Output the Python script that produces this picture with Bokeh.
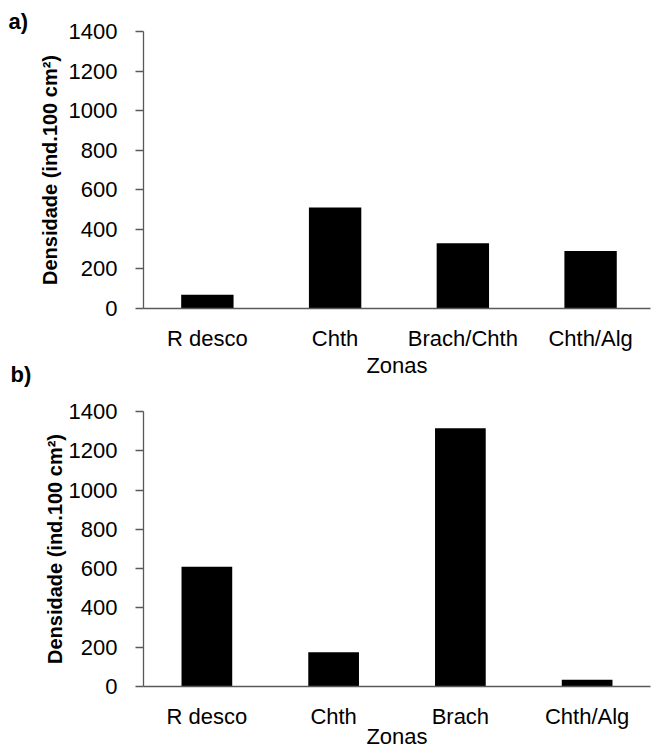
from bokeh.plotting import figure
from bokeh.models import Range1d, FixedTicker, Title
from bokeh.layouts import column
from bokeh.embed import file_html
from bokeh.resources import INLINE

# ---- data ----
zonas_a = ["R desco", "Chth", "Brach/Chth", "Chth/Alg"]
dens_a = [70, 510, 330, 290]
zonas_b = ["R desco", "Chth", "Brach", "Chth/Alg"]
dens_b = [610, 175, 1315, 35]
y_ticks = [0, 200, 400, 600, 800, 1000, 1200, 1400]
y_title = "Densidade (ind.100 cm²)"
x_title = "Zonas"
panel_tags = ["a)", "b)"]

FONT = "Liberation Sans"
AXIS_COL = "#595959"


def make_panel(cats, vals, width, height, b_left, b_right, b_top, b_bottom,
               x_end, bar_w, ylab_standoff, tick_standoff, xlab_standoff):
    xs = list(range(len(cats)))
    p = figure(width=width, height=height,
               x_range=Range1d(-0.5, x_end), y_range=Range1d(0, 1400),
               output_backend="svg", toolbar_location=None,
               min_border_left=b_left, min_border_right=b_right,
               min_border_top=b_top, min_border_bottom=b_bottom)
    p.vbar(x=xs, top=vals, width=bar_w, fill_color="black", line_color=None)
    p.outline_line_color = None
    p.background_fill_color = "white"
    p.border_fill_color = "white"
    p.xgrid.visible = False
    p.ygrid.visible = False

    # x axis
    xa = p.xaxis[0]
    xa.ticker = FixedTicker(ticks=xs)
    xa.major_label_overrides = {i: c for i, c in zip(xs, cats)}
    xa.major_tick_out = 0
    xa.major_tick_in = 0
    xa.minor_tick_out = 0
    xa.minor_tick_in = 0
    xa.axis_line_color = AXIS_COL
    xa.axis_line_width = 1.3
    xa.major_label_text_font = FONT
    xa.major_label_text_font_size = "22px"
    xa.major_label_text_color = "black"
    xa.major_label_standoff = 17
    xa.axis_label = x_title
    xa.axis_label_text_font = FONT
    xa.axis_label_text_font_size = "22px"
    xa.axis_label_text_font_style = "normal"
    xa.axis_label_text_color = "black"
    xa.axis_label_standoff = xlab_standoff

    # y axis
    ya = p.yaxis[0]
    ya.ticker = FixedTicker(ticks=y_ticks)
    ya.major_tick_out = 8
    ya.major_tick_in = 0
    ya.minor_tick_out = 0
    ya.minor_tick_in = 0
    ya.axis_line_color = AXIS_COL
    ya.axis_line_width = 1.3
    ya.major_tick_line_color = AXIS_COL
    ya.major_tick_line_width = 1.3
    ya.major_label_text_font = FONT
    ya.major_label_text_font_size = "22px"
    ya.major_label_text_color = "black"
    ya.major_label_standoff = tick_standoff
    ya.axis_label = y_title
    ya.axis_label_text_font = FONT
    ya.axis_label_text_font_size = "20px"
    ya.axis_label_text_font_style = "bold"
    ya.axis_label_text_color = "black"
    ya.axis_label_standoff = ylab_standoff
    return p


# panel a: frame x 137..653, y 31..308
pa = make_panel(zonas_a, dens_a, 654, 392, 137, 1, 31, 84,
                3.469, 0.41, 5, 18, -1)
# panel b: frame x 143..650, y 411..686
pb = make_panel(zonas_b, dens_b, 654, 359, 143, 4, 19, 65,
                3.5, 0.40, 0, 18, -8)

pa.add_layout(Title(text=panel_tags[0], align="left", offset=-135,
                    vertical_align="bottom", standoff=-5,
                    text_font=FONT, text_font_size="22px",
                    text_font_style="bold", text_color="black"), "above")
pa.add_layout(Title(text=panel_tags[1], align="left", offset=-133,
                    vertical_align="top", standoff=-38,
                    text_font=FONT, text_font_size="22px",
                    text_font_style="bold", text_color="black"), "below")

layout = column(pa, pb, spacing=0)
open("out.html", "w").write(file_html(layout, INLINE))
